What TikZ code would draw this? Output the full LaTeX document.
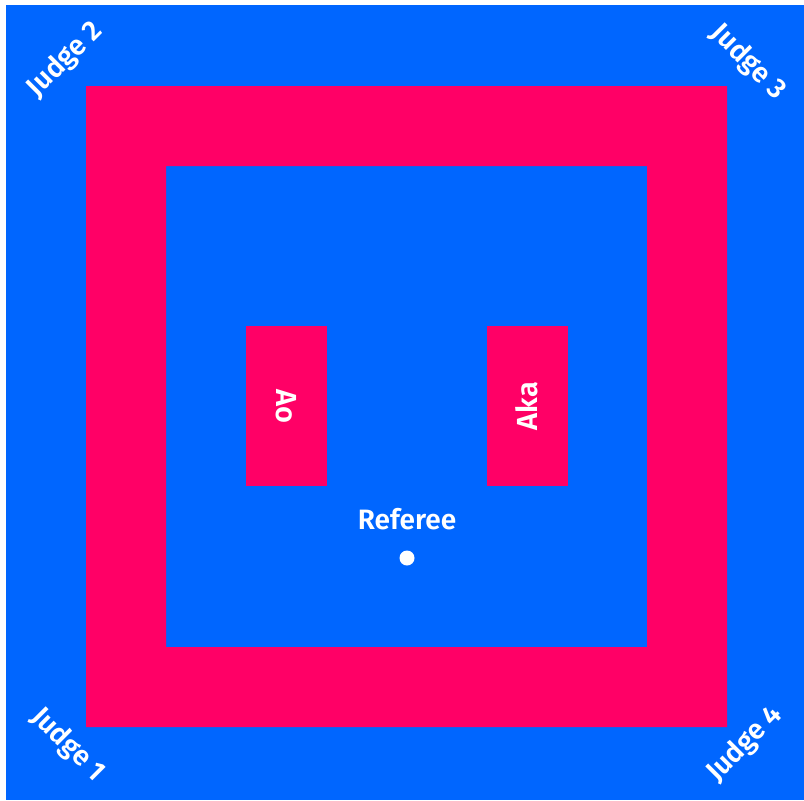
\documentclass[tikz,border=0pt]{standalone}
\usepackage{fontspec}
\setmainfont{Fira Sans}[BoldFont={Fira Sans SemiBold}]
\usepackage{xcolor}
\definecolor{matblue}{RGB}{0, 102, 255}
\definecolor{matred}{RGB}{255, 0, 102}
\usepackage{tikz}

\begin{document}
\begin{tikzpicture}[
  x=0.5pt, y=-0.5pt,
  zone/.style={rectangle, fill=matred, inner sep=0pt, minimum width=40.5pt, minimum height=80pt},
  judge/.style={text=white, font=\bfseries\fontsize{14}{16}\selectfont, inner sep=0pt},
  side/.style={text=white, font=\bfseries\fontsize{14.5}{16}\selectfont, inner sep=0pt},
  spot/.style={circle, fill=white, inner sep=0pt, minimum size=7.5pt}
]
\useasboundingbox (0,0) rectangle (804,800);
% Mat
\fill[matblue] (6,5) rectangle (804,800);
\fill[matred, even odd rule] (86,86) rectangle (727,727) (166,166) rectangle (647,647);
% Starting zones
\node[zone] (ao) at (286.5,406) {};
\node[zone] (aka) at (527,406) {};
\node[side, rotate=-90] (aotext) at (ao.center) {Ao};
\node[side, rotate=90] (akatext) at (aka.center) {Aka};
% Referee
\node[judge] (referee) at (407,519) {Referee};
\node[spot] (refspot) at (407,558) {};
% Judges
\node[judge, rotate=-45] (j1) at (68,745) {Judge 1};
\node[judge, rotate=45] (j2) at (65,60) {Judge 2};
\node[judge, rotate=-45] (j3) at (748,62) {Judge 3};
\node[judge, rotate=45] (j4) at (745,744) {Judge 4};
\end{tikzpicture}
\end{document}
